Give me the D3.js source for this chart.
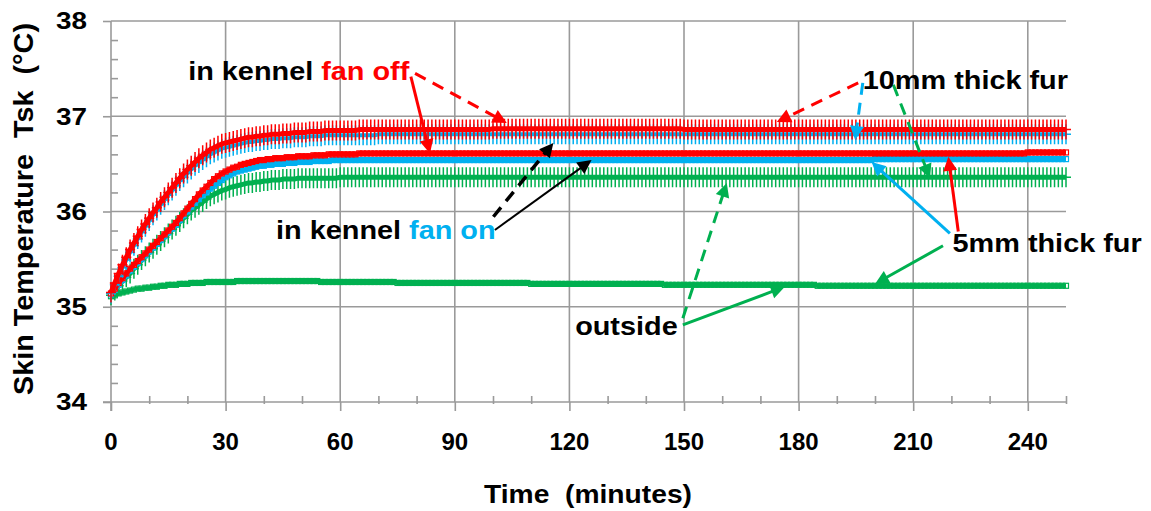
<!DOCTYPE html>
<html><head><meta charset="utf-8">
<script src="https://cdn.jsdelivr.net/npm/d3@7"></script>
<style>
body{margin:0;background:#fff}
svg{display:block}
text{font-family:"Liberation Sans",Arial,sans-serif;font-weight:bold}
</style>
</head><body>
<svg id="chart" width="1151" height="511"></svg>
<script>
// ---------------- data ----------------
const minutes = d3.range(0, 251);            // one reading per minute
const xTickValues = [0, 30, 60, 90, 120, 150, 180, 210, 240];
const yTickValues = [34, 35, 36, 37, 38];

// in kennel, fan off, 10 mm fur (red +)
const off10 = [
35.15,35.25,35.35,35.44,35.52,35.60,35.67,35.74,35.81,35.87,
35.93,35.99,36.04,36.10,36.15,36.20,36.25,36.30,36.35,36.40,
36.44,36.48,36.52,36.56,36.59,36.62,36.65,36.67,36.69,36.71,
36.72,36.73,36.74,36.75,36.76,36.77,36.78,36.78,36.79,36.79,
36.80,36.80,36.81,36.81,36.81,36.82,36.82,36.82,36.83,36.83,
36.83,36.83,36.84,36.84,36.84,36.84,36.85,36.85,36.85,36.85,
36.85,36.85,36.85,36.85,36.85,36.86,36.86,36.86,36.86,36.86,
36.86,36.86,36.86,36.86,36.86,36.86,36.86,36.86,36.86,36.86,
36.86,36.86,36.86,36.86,36.86,36.86,36.86,36.86,36.86,36.86,
36.86,36.86,36.86,36.86,36.86,36.86,36.86,36.86,36.86,36.86,
36.87,36.87,36.87,36.87,36.87,36.87,36.87,36.87,36.87,36.87,
36.87,36.87,36.87,36.87,36.87,36.87,36.87,36.87,36.87,36.87,
36.87,36.87,36.87,36.87,36.87,36.87,36.87,36.87,36.87,36.87,
36.87,36.87,36.87,36.87,36.87,36.87,36.87,36.87,36.87,36.87,
36.87,36.87,36.87,36.87,36.87,36.87,36.87,36.87,36.87,36.87,
36.86,36.86,36.86,36.86,36.86,36.86,36.86,36.86,36.86,36.86,
36.86,36.86,36.86,36.86,36.86,36.86,36.86,36.86,36.86,36.86,
36.86,36.86,36.86,36.86,36.86,36.86,36.86,36.86,36.86,36.86,
36.86,36.86,36.86,36.86,36.86,36.86,36.86,36.86,36.86,36.86,
36.86,36.86,36.86,36.86,36.86,36.86,36.86,36.86,36.86,36.86,
36.86,36.86,36.86,36.86,36.86,36.86,36.86,36.86,36.86,36.86,
36.86,36.86,36.86,36.86,36.86,36.86,36.86,36.86,36.86,36.86,
36.86,36.86,36.86,36.86,36.86,36.86,36.86,36.86,36.86,36.86,
36.86,36.86,36.86,36.86,36.86,36.86,36.86,36.86,36.86,36.86,
36.86,36.86,36.86,36.86,36.86,36.86,36.86,36.86,36.86,36.86,
36.86];

// in kennel, fan on, 10 mm fur (blue +)
const on10 = [
35.14,35.23,35.32,35.41,35.49,35.57,35.64,35.71,35.78,35.84,
35.90,35.96,36.01,36.07,36.12,36.17,36.22,36.27,36.32,36.36,
36.40,36.44,36.48,36.51,36.54,36.57,36.60,36.62,36.64,36.66,
36.67,36.68,36.69,36.70,36.71,36.72,36.73,36.73,36.74,36.74,
36.75,36.75,36.76,36.76,36.76,36.77,36.77,36.77,36.78,36.78,
36.78,36.78,36.79,36.79,36.79,36.79,36.80,36.80,36.80,36.80,
36.80,36.80,36.80,36.80,36.80,36.80,36.80,36.80,36.80,36.80,
36.81,36.81,36.81,36.81,36.81,36.81,36.81,36.81,36.81,36.81,
36.81,36.81,36.81,36.81,36.81,36.81,36.81,36.81,36.81,36.81,
36.81,36.81,36.81,36.81,36.81,36.81,36.81,36.81,36.81,36.81,
36.81,36.81,36.81,36.81,36.81,36.81,36.81,36.81,36.81,36.81,
36.81,36.81,36.81,36.81,36.81,36.81,36.81,36.81,36.81,36.81,
36.81,36.81,36.81,36.81,36.81,36.81,36.81,36.81,36.81,36.81,
36.81,36.81,36.81,36.81,36.81,36.81,36.81,36.81,36.81,36.81,
36.81,36.81,36.81,36.81,36.81,36.81,36.81,36.81,36.81,36.81,
36.81,36.81,36.81,36.81,36.81,36.81,36.81,36.81,36.81,36.81,
36.81,36.81,36.81,36.81,36.81,36.81,36.81,36.81,36.81,36.81,
36.81,36.81,36.81,36.81,36.81,36.81,36.81,36.81,36.81,36.81,
36.81,36.81,36.81,36.81,36.81,36.81,36.81,36.81,36.81,36.81,
36.81,36.81,36.81,36.81,36.81,36.81,36.81,36.81,36.81,36.81,
36.81,36.81,36.81,36.81,36.81,36.81,36.81,36.81,36.81,36.81,
36.81,36.81,36.81,36.81,36.81,36.81,36.81,36.81,36.81,36.81,
36.81,36.81,36.81,36.81,36.81,36.81,36.81,36.81,36.81,36.81,
36.81,36.81,36.81,36.81,36.81,36.81,36.81,36.81,36.81,36.81,
36.81,36.81,36.81,36.81,36.81,36.81,36.81,36.81,36.81,36.81,
36.81];

// in kennel, fan off, 5 mm fur (red squares)
const off5 = [
35.14,35.19,35.25,35.30,35.35,35.40,35.44,35.48,35.52,35.56,
35.60,35.64,35.68,35.72,35.76,35.80,35.84,35.88,35.93,35.98,
36.03,36.08,36.13,36.18,36.22,36.26,36.30,36.34,36.37,36.40,
36.42,36.44,36.46,36.47,36.49,36.50,36.51,36.52,36.53,36.54,
36.54,36.55,36.55,36.56,36.56,36.56,36.57,36.57,36.57,36.58,
36.58,36.58,36.58,36.59,36.59,36.59,36.59,36.60,36.60,36.60,
36.60,36.60,36.60,36.60,36.60,36.61,36.61,36.61,36.61,36.61,
36.61,36.61,36.61,36.61,36.61,36.61,36.61,36.61,36.61,36.61,
36.61,36.61,36.61,36.61,36.61,36.61,36.61,36.61,36.61,36.61,
36.61,36.61,36.61,36.61,36.61,36.61,36.61,36.61,36.61,36.61,
36.61,36.61,36.61,36.61,36.61,36.61,36.61,36.61,36.61,36.61,
36.61,36.61,36.61,36.61,36.61,36.61,36.61,36.61,36.61,36.61,
36.61,36.61,36.61,36.61,36.61,36.61,36.61,36.61,36.61,36.61,
36.61,36.61,36.61,36.61,36.61,36.61,36.61,36.61,36.61,36.61,
36.61,36.61,36.61,36.61,36.61,36.61,36.61,36.61,36.61,36.61,
36.61,36.61,36.61,36.61,36.61,36.61,36.61,36.61,36.61,36.61,
36.61,36.61,36.61,36.61,36.61,36.61,36.61,36.61,36.61,36.61,
36.61,36.61,36.61,36.61,36.61,36.61,36.61,36.61,36.61,36.61,
36.61,36.61,36.61,36.61,36.61,36.61,36.61,36.61,36.61,36.61,
36.61,36.61,36.61,36.61,36.61,36.61,36.61,36.61,36.61,36.61,
36.61,36.61,36.61,36.61,36.61,36.61,36.61,36.61,36.61,36.61,
36.61,36.61,36.61,36.61,36.61,36.61,36.61,36.61,36.61,36.61,
36.61,36.61,36.61,36.61,36.61,36.61,36.61,36.61,36.61,36.61,
36.61,36.61,36.61,36.61,36.61,36.61,36.61,36.61,36.61,36.61,
36.62,36.62,36.62,36.62,36.62,36.62,36.62,36.62,36.62,36.62,
36.62];

// in kennel, fan on, 5 mm fur (blue squares)
const on5 = [
35.13,35.18,35.23,35.28,35.33,35.38,35.42,35.46,35.50,35.54,
35.58,35.62,35.66,35.70,35.74,35.78,35.82,35.86,35.91,35.96,
36.00,36.05,36.09,36.13,36.17,36.20,36.24,36.27,36.30,36.33,
36.36,36.38,36.40,36.42,36.43,36.44,36.45,36.46,36.47,36.48,
36.48,36.49,36.49,36.50,36.50,36.50,36.51,36.51,36.51,36.52,
36.52,36.52,36.52,36.53,36.53,36.53,36.53,36.53,36.54,36.54,
36.54,36.54,36.54,36.54,36.54,36.54,36.54,36.54,36.54,36.54,
36.54,36.54,36.54,36.54,36.54,36.54,36.54,36.54,36.54,36.54,
36.54,36.54,36.54,36.54,36.54,36.54,36.54,36.54,36.54,36.54,
36.54,36.54,36.54,36.54,36.54,36.54,36.54,36.54,36.54,36.54,
36.54,36.54,36.54,36.54,36.54,36.54,36.54,36.54,36.54,36.54,
36.54,36.54,36.54,36.54,36.54,36.54,36.54,36.54,36.54,36.54,
36.54,36.54,36.54,36.54,36.54,36.54,36.54,36.54,36.54,36.54,
36.54,36.54,36.54,36.54,36.54,36.54,36.54,36.54,36.54,36.54,
36.54,36.54,36.54,36.54,36.54,36.54,36.54,36.54,36.54,36.54,
36.54,36.54,36.54,36.54,36.54,36.54,36.54,36.54,36.54,36.54,
36.54,36.54,36.54,36.54,36.54,36.54,36.54,36.54,36.54,36.54,
36.54,36.54,36.54,36.54,36.54,36.54,36.54,36.54,36.54,36.54,
36.54,36.54,36.54,36.54,36.54,36.54,36.54,36.54,36.54,36.54,
36.54,36.54,36.54,36.54,36.54,36.54,36.54,36.54,36.54,36.54,
36.55,36.55,36.55,36.55,36.55,36.55,36.55,36.55,36.55,36.55,
36.55,36.55,36.55,36.55,36.55,36.55,36.55,36.55,36.55,36.55,
36.55,36.55,36.55,36.55,36.55,36.55,36.55,36.55,36.55,36.55,
36.55,36.55,36.55,36.55,36.55,36.55,36.55,36.55,36.55,36.55,
36.55,36.55,36.55,36.55,36.55,36.55,36.55,36.55,36.55,36.55,
36.55];

// outside, 10 mm fur (green +)
const out10 = [
35.12,35.17,35.22,35.27,35.31,35.35,35.40,35.44,35.49,35.53,
35.57,35.61,35.65,35.69,35.73,35.77,35.81,35.85,35.89,35.93,
35.97,36.01,36.04,36.07,36.10,36.13,36.16,36.18,36.20,36.22,
36.23,36.25,36.26,36.27,36.28,36.29,36.30,36.30,36.31,36.31,
36.32,36.32,36.33,36.33,36.33,36.34,36.34,36.34,36.34,36.35,
36.35,36.35,36.35,36.35,36.35,36.35,36.35,36.35,36.35,36.35,
36.36,36.36,36.36,36.36,36.36,36.36,36.36,36.36,36.36,36.36,
36.36,36.36,36.36,36.36,36.36,36.36,36.36,36.36,36.36,36.36,
36.36,36.36,36.36,36.36,36.36,36.36,36.36,36.36,36.36,36.36,
36.36,36.36,36.36,36.36,36.36,36.36,36.36,36.36,36.36,36.36,
36.36,36.36,36.36,36.36,36.36,36.36,36.36,36.36,36.36,36.36,
36.36,36.36,36.36,36.36,36.36,36.36,36.36,36.36,36.36,36.36,
36.36,36.36,36.36,36.36,36.36,36.36,36.36,36.36,36.36,36.36,
36.36,36.36,36.36,36.36,36.36,36.36,36.36,36.36,36.36,36.36,
36.36,36.36,36.36,36.36,36.36,36.36,36.36,36.36,36.36,36.36,
36.36,36.36,36.36,36.36,36.36,36.36,36.36,36.36,36.36,36.36,
36.36,36.36,36.36,36.36,36.36,36.36,36.36,36.36,36.36,36.36,
36.36,36.36,36.36,36.36,36.36,36.36,36.36,36.36,36.36,36.36,
36.36,36.36,36.36,36.36,36.36,36.36,36.36,36.36,36.36,36.36,
36.36,36.36,36.36,36.36,36.36,36.36,36.36,36.36,36.36,36.36,
36.36,36.36,36.36,36.36,36.36,36.36,36.36,36.36,36.36,36.36,
36.36,36.36,36.36,36.36,36.36,36.36,36.36,36.36,36.36,36.36,
36.36,36.36,36.36,36.36,36.36,36.36,36.36,36.36,36.36,36.36,
36.36,36.36,36.36,36.36,36.36,36.36,36.36,36.36,36.36,36.36,
36.36,36.36,36.36,36.36,36.36,36.36,36.36,36.36,36.36,36.36,
36.36];

// outside, 5 mm fur (green line)
const out5 = [
35.11,35.12,35.14,35.15,35.16,35.17,35.18,35.19,35.19,35.20,
35.20,35.21,35.21,35.22,35.22,35.23,35.23,35.23,35.24,35.24,
35.24,35.25,35.25,35.25,35.25,35.26,35.26,35.26,35.26,35.26,
35.26,35.26,35.26,35.27,35.27,35.27,35.27,35.27,35.27,35.27,
35.27,35.27,35.27,35.27,35.27,35.27,35.27,35.27,35.27,35.27,
35.27,35.27,35.27,35.27,35.27,35.26,35.26,35.26,35.26,35.26,
35.26,35.26,35.26,35.26,35.26,35.26,35.26,35.26,35.26,35.26,
35.26,35.26,35.26,35.26,35.26,35.25,35.25,35.25,35.25,35.25,
35.25,35.25,35.25,35.25,35.25,35.25,35.25,35.25,35.25,35.25,
35.25,35.25,35.25,35.25,35.25,35.25,35.25,35.25,35.25,35.25,
35.25,35.25,35.25,35.25,35.25,35.25,35.25,35.25,35.25,35.25,
35.24,35.24,35.24,35.24,35.24,35.24,35.24,35.24,35.24,35.24,
35.24,35.24,35.24,35.24,35.24,35.24,35.24,35.24,35.24,35.24,
35.24,35.24,35.24,35.24,35.24,35.24,35.24,35.24,35.24,35.24,
35.24,35.24,35.24,35.24,35.24,35.23,35.23,35.23,35.23,35.23,
35.23,35.23,35.23,35.23,35.23,35.23,35.23,35.23,35.23,35.23,
35.23,35.23,35.23,35.23,35.23,35.23,35.23,35.23,35.23,35.23,
35.23,35.23,35.23,35.23,35.23,35.23,35.23,35.23,35.23,35.23,
35.23,35.23,35.23,35.23,35.23,35.22,35.22,35.22,35.22,35.22,
35.22,35.22,35.22,35.22,35.22,35.22,35.22,35.22,35.22,35.22,
35.22,35.22,35.22,35.22,35.22,35.22,35.22,35.22,35.22,35.22,
35.22,35.22,35.22,35.22,35.22,35.22,35.22,35.22,35.22,35.22,
35.22,35.22,35.22,35.22,35.22,35.22,35.22,35.22,35.22,35.22,
35.22,35.22,35.22,35.22,35.22,35.22,35.22,35.22,35.22,35.22,
35.22,35.22,35.22,35.22,35.22,35.22,35.22,35.22,35.22,35.22,
35.22];

const RED = "#ff0000", BLUE = "#00b0f0", GREEN = "#00b050", BLACK = "#000000";

// series: drawn bottom to top
const seriesList = [
  {name: "outside 5mm",        values: out5,  color: GREEN, marker: "square", width: 4.5},
  {name: "outside 10mm",       values: out10, color: GREEN, marker: "plus",   width: 5},
  {name: "fan on 5mm",         values: on5,   color: BLUE,  marker: "square", width: 5},
  {name: "fan off 5mm",        values: off5,  color: RED,   marker: "square", width: 5},
  {name: "fan on 10mm",        values: on10,  color: BLUE,  marker: "plus",   width: 4},
  {name: "fan off 10mm",       values: off10, color: RED,   marker: "plus",   width: 5}
];

// annotation arrows in data units [minutes, °C]
const arrowList = [
  {from: [79.6, 37.45],  to: [103.6, 36.93], color: RED,   dashed: true,  w: 3},
  {from: [78.5, 37.415], to: [83.5, 36.61],  color: RED,   dashed: false, w: 3},
  {from: [195.6, 37.35], to: [174.3, 36.94], color: RED,   dashed: true,  w: 3},
  {from: [196.8, 37.35], to: [194.8, 36.75], color: BLUE,  dashed: true,  w: 3},
  {from: [204.8, 37.33], to: [214.4, 36.35], color: GREEN, dashed: true,  w: 3},
  {from: [219.6, 35.77], to: [199.1, 36.52], color: BLUE,  dashed: false, w: 3},
  {from: [221.8, 35.79], to: [219.2, 36.575],color: RED,   dashed: false, w: 3},
  {from: [217.8, 35.64], to: [200.0, 35.24], color: GREEN, dashed: false, w: 3},
  {from: [100.1, 35.945],to: [115.8, 36.72], color: BLACK, dashed: true,  w: 3.5},
  {from: [100.5, 35.806],to: [125.8, 36.54], color: BLACK, dashed: false, w: 2},
  {from: [149.7, 34.88], to: [161.2, 36.30], color: GREEN, dashed: true,  w: 3},
  {from: [149.7, 34.81], to: [176.4, 35.21], color: GREEN, dashed: false, w: 3}
];

// annotation labels: anchor (left, baseline) in data units
const labelList = [
  {at: [20.2, 37.38],  parts: [["in kennel ", BLACK], ["fan off", RED]]},
  {at: [196.8, 37.286],parts: [["10mm thick fur", BLACK]]},
  {at: [220.3, 35.578],parts: [["5mm thick fur", BLACK]]},
  {at: [43.2, 35.708], parts: [["in kennel ", BLACK], ["fan on", BLUE]]},
  {at: [121.5, 34.703],parts: [["outside", BLACK]]}
];

// ---------------- drawing ----------------
const svg = d3.select("#chart");
const x = d3.scaleLinear().domain([0, 250]).range([111, 1066]);
const y = d3.scaleLinear().domain([34, 38]).range([402, 21]);
const GRID = "#9a9a9a";

// gridlines
const grid = svg.append("g");
grid.selectAll("line.v").data(xTickValues.filter(d => d > 0)).join("line")
  .attr("x1", d => x(d)).attr("x2", d => x(d)).attr("y1", y(38)).attr("y2", y(34))
  .attr("stroke", GRID).attr("stroke-width", 1.6);
grid.selectAll("line.h").data(yTickValues.filter(d => d > 34)).join("line")
  .attr("x1", x(0)).attr("x2", x(250)).attr("y1", d => y(d)).attr("y2", d => y(d))
  .attr("stroke", GRID).attr("stroke-width", 1.6);

// axes
const xAxis = svg.append("g").attr("transform", `translate(0,${y(34)})`)
  .call(d3.axisBottom(x).tickValues(xTickValues).tickSize(9).tickFormat(""));
const xMinor = svg.append("g").attr("transform", `translate(0,${y(34)})`)
  .call(d3.axisBottom(x).tickValues(d3.range(10, 251, 10).filter(d => d % 30 !== 0)).tickSize(2).tickFormat(""));
xMinor.selectAll(".tick line").attr("y1", -6);
const yAxis = svg.append("g").attr("transform", `translate(${x(0)},0)`)
  .call(d3.axisLeft(y).tickValues(yTickValues).tickSize(8).tickFormat(""));
const yMinor = svg.append("g").attr("transform", `translate(${x(0)},0)`)
  .call(d3.axisRight(y).tickValues(d3.range(34.2, 38, 0.2).filter(d => Math.abs(d - Math.round(d)) > 0.05)).tickSize(7).tickFormat(""));
[xAxis, xMinor, yAxis, yMinor].forEach(g => {
  g.select(".domain").remove();
  g.selectAll(".tick line").attr("stroke", GRID).attr("stroke-width", 1.6);
});
svg.append("line").attr("x1", x(0) - 8).attr("x2", x(250)).attr("y1", y(34)).attr("y2", y(34))
  .attr("stroke", GRID).attr("stroke-width", 1.6);
svg.append("line").attr("x1", x(0)).attr("x2", x(0)).attr("y1", y(38)).attr("y2", y(34) + 9)
  .attr("stroke", GRID).attr("stroke-width", 1.6);

// tick labels
svg.append("g").selectAll("text").data(yTickValues).join("text")
  .attr("x", 87).attr("y", d => y(d)).attr("dy", "0.36em")
  .attr("text-anchor", "end").attr("font-size", 23)
  .attr("textLength", 31).attr("lengthAdjust", "spacingAndGlyphs")
  .text(d => d);
svg.append("g").selectAll("text").data(xTickValues).join("text")
  .attr("x", d => x(d)).attr("y", 450)
  .attr("text-anchor", "middle").attr("font-size", 24)
  .text(d => d);

// axis titles
svg.append("text").attr("x", 588).attr("y", 503).attr("text-anchor", "middle")
  .attr("font-size", 26).style("white-space", "pre")
  .attr("textLength", 208).attr("lengthAdjust", "spacingAndGlyphs")
  .text("Time  (minutes)");
svg.append("text").attr("transform", "translate(33,209) rotate(-90)")
  .attr("text-anchor", "middle").attr("font-size", 27).style("white-space", "pre")
  .attr("textLength", 372).attr("lengthAdjust", "spacingAndGlyphs")
  .text("Skin Temperature  Tsk  (°C)");

// series
const line = d3.line().x(d => x(d[0])).y(d => y(d[1]));
const plusPath = "M-5,0H5M0,-10V10";
seriesList.forEach(s => {
  const pts = minutes.map((m, i) => [m, s.values[i]]);
  const g = svg.append("g");
  if (s.marker === "square") {
    g.selectAll("rect").data(pts).join("rect")
      .attr("x", d => x(d[0]) - 2.5).attr("y", d => y(d[1]) - 2.5)
      .attr("width", 5).attr("height", 5)
      .attr("fill", "#fff").attr("stroke", s.color).attr("stroke-width", 1.2);
    g.append("path").datum(pts).attr("d", line).attr("fill", "none")
      .attr("stroke", s.color).attr("stroke-width", s.width).attr("stroke-linejoin", "round");
  } else {
    g.append("path").datum(pts).attr("d", line).attr("fill", "none")
      .attr("stroke", s.color).attr("stroke-width", s.width).attr("stroke-linejoin", "round");
    g.selectAll("path.m").data(pts).join("path").attr("class", "m")
      .attr("transform", d => `translate(${x(d[0])},${y(d[1])})`)
      .attr("d", plusPath).attr("fill", "none")
      .attr("stroke", s.color).attr("stroke-width", 1.5);
  }
});

// arrows
const ag = svg.append("g");
arrowList.forEach(a => {
  const x1 = x(a.from[0]), y1 = y(a.from[1]), x2 = x(a.to[0]), y2 = y(a.to[1]);
  const ang = Math.atan2(y2 - y1, x2 - x1);
  const L = 14, W = 7;
  const bx = x2 - L * Math.cos(ang), by = y2 - L * Math.sin(ang);
  ag.append("line").attr("x1", x1).attr("y1", y1).attr("x2", bx + 2 * Math.cos(ang)).attr("y2", by + 2 * Math.sin(ang))
    .attr("stroke", a.color).attr("stroke-width", a.w)
    .attr("stroke-dasharray", a.dashed ? "12,8" : null);
  ag.append("path")
    .attr("d", `M${x2},${y2}L${bx + W * Math.sin(ang)},${by - W * Math.cos(ang)}L${bx - W * Math.sin(ang)},${by + W * Math.cos(ang)}Z`)
    .attr("fill", a.color);
});

// labels
labelList.forEach(l => {
  const t = svg.append("text")
    .attr("transform", `translate(${x(l.at[0])},${y(l.at[1])}) scale(1.11,1)`)
    .attr("font-size", 26).style("white-space", "pre");
  l.parts.forEach(p => t.append("tspan").attr("fill", p[1]).text(p[0]));
});
</script>
</body></html>
